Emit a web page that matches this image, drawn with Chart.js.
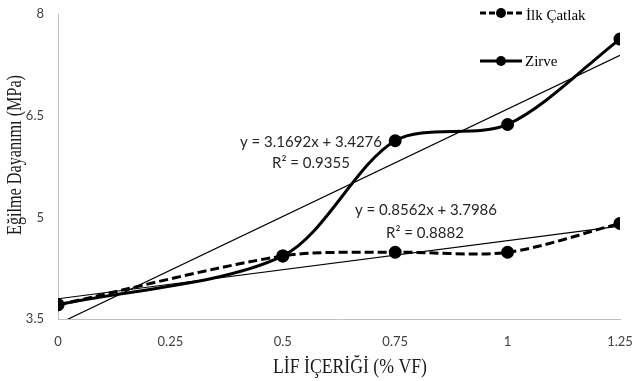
<!DOCTYPE html>
<html>
<head>
<meta charset="utf-8">
<script src="https://cdn.jsdelivr.net/npm/chart.js@4/dist/chart.umd.min.js"></script>
<style>
  html, body { margin: 0; padding: 0; background: #ffffff; }
  #wrap { width: 635px; height: 381px; position: relative; }
</style>
</head>
<body>
<div id="wrap"><canvas id="c" width="635" height="381"></canvas></div>
<script>
// ---- data ----
const fiberContent = [0, 0.5, 0.75, 1, 1.25];           // LİF İÇERİĞİ (% VF)
const ilkCatlak   = [3.71, 4.43, 4.485, 4.485, 4.91];   // İlk Çatlak (MPa)
const zirve       = [3.71, 4.43, 6.13, 6.37, 7.63];     // Zirve (MPa)
const trendX      = [0, 1.25];
const ilkCatlakTrend = [3.7986, 4.8689];                // y = 0.8562x + 3.7986
const zirveTrend     = [3.4276, 7.3891];                // y = 3.1692x + 3.4276
const xTicks = [0, 0.25, 0.5, 0.75, 1, 1.25];
const yTicks = [3.5, 5, 6.5, 8];
const seriesNames = ['İlk Çatlak', 'Zirve'];
const equations = ['y = 3.1692x + 3.4276', 'R² = 0.9355', 'y = 0.8562x + 3.7986', 'R² = 0.8882'];
const xTitle = 'LİF İÇERİĞİ (% VF)';
const yTitle = 'Eğilme Dayanımı (MPa)';

const pts = (xs, ys) => xs.map((x, i) => ({ x: x, y: ys[i] }));
const tickFont = { family: 'Lato', size: 13 };
const tickColor = '#404040';

const overlay = {
  id: 'overlay',
  afterDraw(chart) {
    const ctx = chart.ctx;
    ctx.save();
    // equations
    ctx.fillStyle = '#262626';
    ctx.font = '15px Lato';
    ctx.textAlign = 'center';
    ctx.textBaseline = 'middle';
    ctx.fillText(equations[0], 311, 142);
    ctx.fillText(equations[1], 311, 163);
    ctx.fillText(equations[2], 426, 210);
    ctx.fillText(equations[3], 425, 233);

    // axis titles (condensed serif)
    ctx.fillStyle = '#1a1a1a';
    ctx.font = '22px "Liberation Serif"';
    ctx.textAlign = 'center';
    ctx.textBaseline = 'alphabetic';
    let w = ctx.measureText(xTitle).width;
    ctx.save();
    ctx.translate(350, 373);
    ctx.scale(154 / w, 1);
    ctx.fillText(xTitle, 0, 0);
    ctx.restore();

    ctx.font = '20px "Liberation Serif"';
    ctx.textBaseline = 'middle';
    w = ctx.measureText(yTitle).width;
    ctx.save();
    ctx.translate(16, 155);
    ctx.rotate(-Math.PI / 2);
    ctx.scale(160 / w, 1);
    ctx.fillText(yTitle, 0, 0);
    ctx.restore();

    // legend
    ctx.strokeStyle = '#000';
    ctx.fillStyle = '#000';
    ctx.lineWidth = 3;
    ctx.setLineDash([6, 3]);
    ctx.beginPath(); ctx.moveTo(480, 13); ctx.lineTo(522, 13); ctx.stroke();
    ctx.setLineDash([]);
    ctx.beginPath(); ctx.arc(501, 13, 5, 0, Math.PI * 2); ctx.fill();
    ctx.beginPath(); ctx.moveTo(480, 61); ctx.lineTo(522, 61); ctx.stroke();
    ctx.beginPath(); ctx.arc(501, 61, 5, 0, Math.PI * 2); ctx.fill();
    ctx.font = '15px "Liberation Serif"';
    ctx.textAlign = 'left';
    ctx.textBaseline = 'alphabetic';
    ctx.fillText(seriesNames[0], 526, 20);
    ctx.fillText(seriesNames[1], 525, 66);
    ctx.restore();
  }
};

new Chart(document.getElementById('c'), {
  type: 'scatter',
  data: {
    datasets: [
      {
        label: seriesNames[0],
        data: pts(fiberContent, ilkCatlak),
        showLine: true,
        borderColor: '#000', backgroundColor: '#000',
        borderWidth: 3, borderDash: [9, 4],
        pointRadius: 5, pointHoverRadius: 5,
        tension: 0.3
      },
      {
        label: seriesNames[1],
        data: pts(fiberContent, zirve),
        showLine: true,
        borderColor: '#000', backgroundColor: '#000',
        borderWidth: 3,
        pointRadius: 5, pointHoverRadius: 5,
        tension: 0.3
      },
      {
        label: 'trend1',
        data: pts(trendX, ilkCatlakTrend),
        showLine: true,
        borderColor: '#000', borderWidth: 1.2,
        pointRadius: 0, tension: 0
      },
      {
        label: 'trend2',
        data: pts(trendX, zirveTrend),
        showLine: true,
        borderColor: '#000', borderWidth: 1.2,
        pointRadius: 0, tension: 0
      }
    ]
  },
  options: {
    responsive: false,
    animation: false,
    events: [],
    layout: { padding: { top: 14, right: 15, left: 0, bottom: 0 } },
    plugins: { legend: { display: false }, tooltip: { enabled: false } },
    scales: {
      x: {
        type: 'linear', min: 0, max: 1.25,
        afterBuildTicks: s => { s.ticks = xTicks.map(v => ({ value: v })); },
        afterFit: s => { s.height = 62; s.paddingLeft = 0; s.paddingRight = 0; },
        ticks: { font: tickFont, color: tickColor, padding: 15, maxRotation: 0, autoSkip: false,
                 callback: v => String(v) },
        grid: { color: 'rgba(0,0,0,0)', drawTicks: false },
        border: { display: true, color: '#c0c0c0', width: 1 }
      },
      y: {
        type: 'linear', min: 3.5, max: 8,
        afterBuildTicks: s => { s.ticks = yTicks.map(v => ({ value: v })); },
        afterFit: s => { s.width = 58; s.paddingTop = 0; s.paddingBottom = 0; },
        ticks: { font: tickFont, color: tickColor, padding: 14, callback: v => String(v) },
        grid: { color: 'rgba(0,0,0,0)', drawTicks: false },
        border: { display: true, color: '#c0c0c0', width: 1 }
      }
    }
  },
  plugins: [overlay]
});
</script>
</body>
</html>
